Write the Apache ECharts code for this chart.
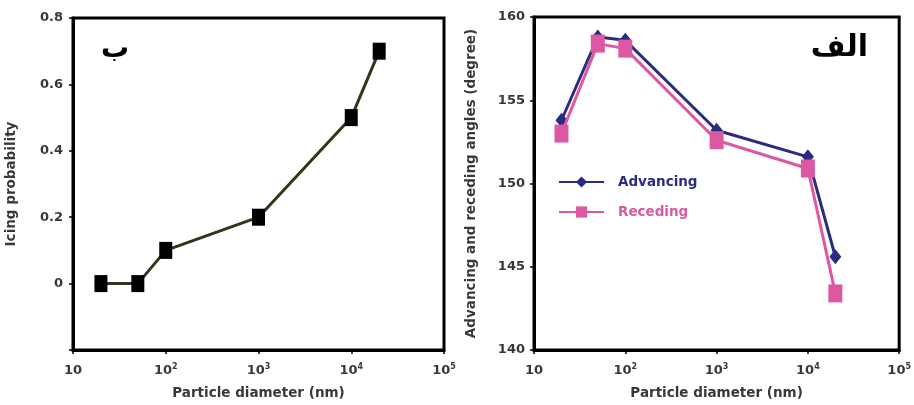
<!DOCTYPE html>
<html>
<head>
<meta charset="utf-8">
<script src="https://cdn.jsdelivr.net/npm/echarts@6/dist/echarts.min.js"></script>
<style>
html,body{margin:0;padding:0;background:#fff;}
#chart{width:914px;height:405px;}
</style>
</head>
<body>
<div id="chart"></div>
<script>
// ---- data ----
var diameters = [20, 50, 100, 1000, 10000, 20000];
var icingProbability = [0, 0, 0.1, 0.2, 0.5, 0.7];
var advancing = [153.8, 158.8, 158.6, 153.2, 151.6, 145.6];
var receding = [153.0, 158.4, 158.1, 152.6, 150.9, 143.4];
var xTickBase = ['10', '10', '10', '10', '10'];
var xTickExp = ['', '2', '3', '4', '5'];
var xTickValues = [10, 100, 1000, 10000, 100000];
var seriesNames = ['Advancing', 'Receding'];
var panelLabels = ['ب', 'الف'];
var xName = 'Particle diameter (nm)';
var yNameLeft = 'Icing probability';
var yNameRight = 'Advancing and receding angles (degree)';

function pairs(xs, ys) { return xs.map(function (x, i) { return [x, ys[i]]; }); }

var FONT = 'DejaVu Sans';
var TXT = '#383838';
var NAVY = '#2b2b82';
var PINK = '#dc58a2';

function xLabelFmt(v) {
  var i = xTickValues.indexOf(Math.round(v));
  if (i < 0) return '';
  return xTickExp[i] ? '{b|' + xTickBase[i] + '}{s|' + xTickExp[i] + '}' : '{b|' + xTickBase[i] + '}';
}

function xAxis(gridIndex) {
  return {
    type: 'log', logBase: 10, gridIndex: gridIndex, min: 10, max: 100000,
    name: xName, nameLocation: 'middle', nameGap: 36,
    nameTextStyle: { fontFamily: FONT, fontWeight: 'bold', fontSize: 13.5, color: TXT },
    axisLine: { show: true, onZero: false, lineStyle: { color: '#000', width: 3 } },
    axisTick: { show: true, inside: false, length: 4, lineStyle: { color: '#000', width: 1.5 } },
    minorTick: { show: false },
    splitLine: { show: false },
    axisLabel: {
      margin: 13, formatter: xLabelFmt, color: TXT,
      rich: {
        b: { fontFamily: FONT, fontWeight: 'bold', fontSize: 13, color: TXT, lineHeight: 16 },
        s: { fontFamily: FONT, fontWeight: 'bold', fontSize: 8, color: TXT, verticalAlign: 'top', lineHeight: 16, padding: [0, 0, 8, 0] }
      }
    }
  };
}

var option = {
  animation: false,
  backgroundColor: '#fff',
  grid: [
    { left: 73, right: 470, top: 18, bottom: 53, show: true, borderColor: '#000', borderWidth: 3, backgroundColor: '#fff' },
    { left: 534, right: 11, top: 17, bottom: 53, show: true, borderColor: '#000', borderWidth: 3, backgroundColor: '#fff' }
  ],
  xAxis: [xAxis(0), xAxis(1)],
  yAxis: [
    {
      type: 'value', gridIndex: 0, min: -0.2, max: 0.8, interval: 0.2,
      name: yNameLeft, nameLocation: 'middle', nameGap: 55,
      nameTextStyle: { fontFamily: FONT, fontWeight: 'bold', fontSize: 13.5, color: TXT },
      axisLine: { show: true, onZero: false, lineStyle: { color: '#000', width: 3 } },
      axisTick: { show: true, inside: false, length: 4, lineStyle: { color: '#000', width: 1.5 } },
      splitLine: { show: false },
      axisLabel: {
        margin: 10, fontFamily: FONT, fontWeight: 'bold', fontSize: 13, color: TXT,
        formatter: function (v) {
          if (v < -0.1) return '';
          if (Math.abs(v) < 1e-9) return '0';
          return v.toFixed(1);
        }
      }
    },
    {
      type: 'value', gridIndex: 1, min: 140, max: 160, interval: 5,
      name: yNameRight, nameLocation: 'middle', nameGap: 56,
      nameTextStyle: { fontFamily: FONT, fontWeight: 'bold', fontSize: 13.5, color: TXT },
      axisLine: { show: true, onZero: false, lineStyle: { color: '#000', width: 3 } },
      axisTick: { show: true, inside: false, length: 4, lineStyle: { color: '#000', width: 1.5 } },
      splitLine: { show: false },
      axisLabel: { margin: 9, fontFamily: FONT, fontWeight: 'bold', fontSize: 13, color: TXT }
    }
  ],
  legend: {
    orient: 'vertical', left: 553, top: 170, itemWidth: 45, itemHeight: 14, itemGap: 16,
    data: [
      { name: seriesNames[0], textStyle: { color: NAVY } },
      { name: seriesNames[1], textStyle: { color: PINK } }
    ],
    textStyle: { fontFamily: FONT, fontWeight: 'bold', fontSize: 13.5, padding: [0, 0, 0, 9] }
  },
  graphic: [
    { type: 'text', left: 101, top: 36, style: { text: panelLabels[0], font: 'bold 28px "DejaVu Sans"', fill: '#000' } },
    { type: 'text', right: 46, top: 33, style: { text: panelLabels[1], font: 'bold 30px "DejaVu Sans"', fill: '#000' } }
  ],
  series: [
    {
      type: 'line', xAxisIndex: 0, yAxisIndex: 0,
      data: pairs(diameters, icingProbability),
      symbol: 'rect', symbolSize: [13, 17],
      itemStyle: { color: '#000' },
      lineStyle: { color: '#34341a', width: 3 },
      z: 3
    },
    {
      name: seriesNames[0], type: 'line', xAxisIndex: 1, yAxisIndex: 1,
      data: pairs(diameters, advancing),
      symbol: 'diamond', symbolSize: [12, 15],
      itemStyle: { color: NAVY },
      lineStyle: { color: NAVY, width: 3 },
      z: 3
    },
    {
      name: seriesNames[1], type: 'line', xAxisIndex: 1, yAxisIndex: 1,
      data: pairs(diameters, receding),
      symbol: 'rect', symbolSize: [14, 18],
      itemStyle: { color: PINK },
      lineStyle: { color: PINK, width: 3 },
      z: 4
    }
  ]
};

var chart = echarts.init(document.getElementById('chart'), null, { renderer: 'canvas' });
chart.setOption(option);
</script>
</body>
</html>
